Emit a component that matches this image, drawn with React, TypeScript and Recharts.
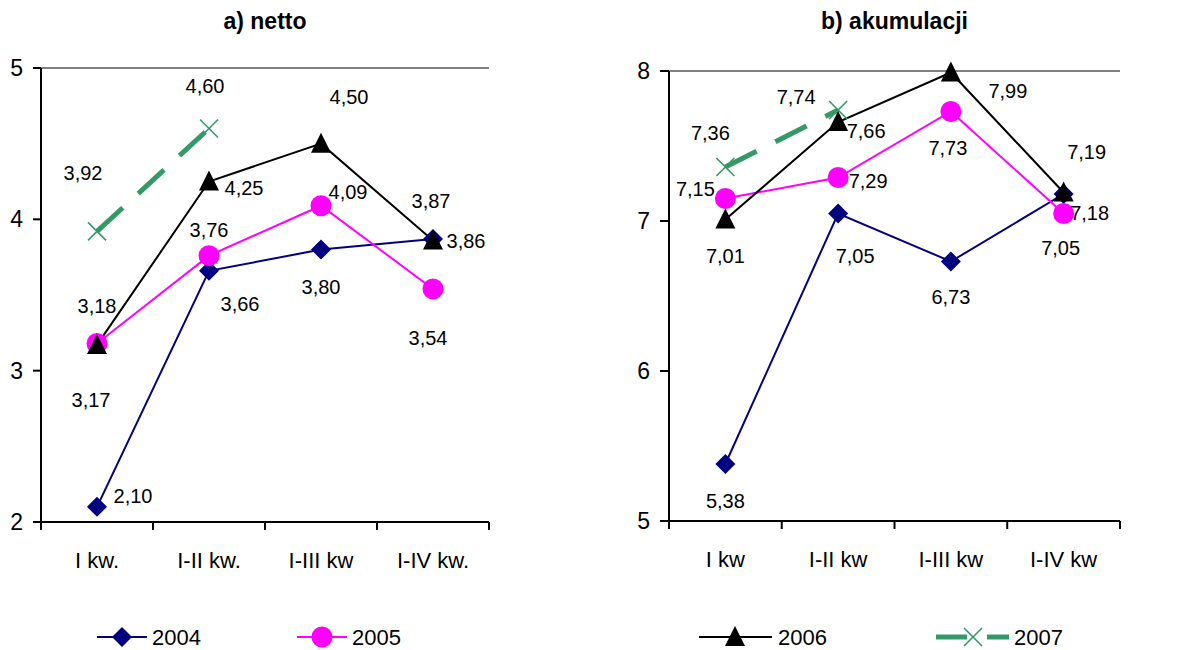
import { LineChart, Line, XAxis, YAxis, LabelList, ReferenceLine } from 'recharts'

const CATS_NETTO = ['I kw.', 'I-II kw.', 'I-III kw', 'I-IV kw.']
const CATS_AKUM = ['I kw', 'I-II kw', 'I-III kw', 'I-IV kw']
const YEARS = ['2004', '2005', '2006', '2007']

const netto2004 = [2.1, 3.66, 3.8, 3.87]
const netto2005 = [3.18, 3.76, 4.09, 3.54]
const netto2006 = [3.17, 4.25, 4.5, 3.86]
const netto2007 = [3.92, 4.6, null, null]

const akum2004 = [5.38, 7.05, 6.73, 7.18]
const akum2005 = [7.15, 7.29, 7.73, 7.05]
const akum2006 = [7.01, 7.66, 7.99, 7.19]
const akum2007 = [7.36, 7.74, null, null]

const NETTO_TICKS = [2, 3, 4, 5]
const AKUM_TICKS = [5, 6, 7, 8]

// where each value label sits relative to its point (dx, dy)
const NETTO_LABEL_POS = [
  [[36, -11], [31, 33], [0, 37], [-2, -38]],
  [[0, -37], [0, -26], [27, -14], [-5, 49]],
  [[-6, 55], [35, 6], [28, -47], [33, 0]],
  [[-14, -58], [-4, -43]],
]
const AKUM_LABEL_POS = [
  [[0, 37], [17, 42], [0, 35], [26, 19]],
  [[-30, -10], [30, 3], [-3, 36], [-3, 34]],
  [[0, 36], [28, 9], [57, 18], [23, -41]],
  [[-15, -34], [-42, -13]],
]

const FONT = '"Liberation Sans", Arial, sans-serif'
const COLORS = ['#000080', '#FF00FF', '#000000', '#339966']
const MARKERS = ['diamond', 'circle', 'triangle', 'x']

function Marker({ kind, cx, cy, color }: any) {
  if (cx == null || cy == null) return <g />
  if (kind === 'diamond')
    return <polygon points={`${cx},${cy - 10} ${cx + 10},${cy} ${cx},${cy + 10} ${cx - 10},${cy}`} fill={color} />
  if (kind === 'circle') return <circle cx={cx} cy={cy} r={10.5} fill={color} />
  if (kind === 'triangle')
    return <polygon points={`${cx},${cy - 11} ${cx + 10},${cy + 9} ${cx - 10},${cy + 9}`} fill={color} />
  return (
    <g stroke={color} strokeWidth={1.6}>
      <line x1={cx - 9} y1={cy - 9} x2={cx + 9} y2={cy + 9} />
      <line x1={cx - 9} y1={cy + 9} x2={cx + 9} y2={cy - 9} />
    </g>
  )
}

const fmt = (v: number) => v.toFixed(2).replace('.', ',')

function Panel({ title, cats, series, ticks, labelPos, left, width, yAxisW, rightM, topM, xAxisH, tickLen }: any) {
  const data = cats.map((c: string, i: number) => {
    const row: any = { cat: c }
    YEARS.forEach((y, k) => { row[y] = series[k][i] })
    return row
  })
  const plotW = width - yAxisW - rightM
  const band = plotW / cats.length
  const top = ticks[ticks.length - 1]

  const xTick = (p: any) => {
    const { x, y, payload, index } = p
    return (
      <g>
        <line x1={x - band / 2} x2={x - band / 2} y1={y} y2={y + 8} stroke="#000" strokeWidth={2} />
        {index === cats.length - 1 && <line x1={x + band / 2} x2={x + band / 2} y1={y} y2={y + 8} stroke="#000" strokeWidth={2} />}
        <text x={x} y={y + 46} textAnchor="middle" fontSize={22} fill="#000" fontFamily={FONT}>{payload.value}</text>
      </g>
    )
  }

  return (
    <div style={{ position: 'absolute', left, top: 0, width, height: 600 }}>
      <div style={{ position: 'absolute', left: yAxisW, width: plotW, top: 8, textAlign: 'center', fontFamily: FONT, fontWeight: 700, fontSize: 23 }}>{title}</div>
      <LineChart width={width} height={600} data={data} margin={{ top: topM, right: rightM, left: 0, bottom: 0 }} style={{ fontFamily: FONT }}>
        <ReferenceLine y={top} stroke="#808080" strokeWidth={2} />
        <XAxis dataKey="cat" height={xAxisH} tickLine={false} tickSize={0} tickMargin={0} interval={0}
          padding={{ left: band / 2, right: band / 2 }}
          axisLine={{ stroke: '#000', strokeWidth: 2 }} tick={xTick} />
        <YAxis width={yAxisW} domain={[ticks[0], top]} ticks={ticks} interval={0}
          tickSize={tickLen} tickMargin={10} tickLine={{ stroke: '#000', strokeWidth: 2 }}
          axisLine={{ stroke: '#000', strokeWidth: 2 }} tick={{ fontSize: 23, fill: '#000' }} />
        <YAxis yAxisId="right" orientation="right" width={0} domain={[0, 1]} tick={false} tickLine={false}
          axisLine={{ stroke: '#808080', strokeWidth: 2 }} />
        {YEARS.map((y, k) => (
          <Line key={y} dataKey={y} isAnimationActive={false} stroke={COLORS[k]}
            strokeWidth={k === 3 ? 5 : 2} strokeDasharray={k === 3 ? '35 21' : undefined}
            dot={(p: any) => <Marker key={p.index} kind={MARKERS[k]} cx={p.cx} cy={p.cy} color={COLORS[k]} />}
            activeDot={false} connectNulls={false}>
            <LabelList dataKey={y} content={(p: any) => {
              if (p.value == null || p.index == null) return null
              const off = labelPos[k][p.index] || [0, -30]
              return (
                <text x={p.x + off[0]} y={p.y + off[1]} textAnchor="middle" dominantBaseline="central"
                  fontSize={20} fill="#000" fontFamily={FONT}>{fmt(p.value)}</text>
              )
            }} />
          </Line>
        ))}
      </LineChart>
    </div>
  )
}

function Legend() {
  const items = [
    { k: 0, x1: 97, x2: 147, mx: 122, tx: 152 },
    { k: 1, x1: 297, x2: 347, mx: 322, tx: 352 },
    { k: 2, x1: 699, x2: 772, mx: 735, tx: 778 },
    { k: 3, x1: 936, x2: 1009, mx: 973, tx: 1014 },
  ]
  const cy = 37
  return (
    <svg width={1196} height={50} style={{ position: 'absolute', left: 0, top: 600 }}>
      {items.map(it => (
        <g key={it.k}>
          {it.k === 3 ? (
            <g stroke={COLORS[3]} strokeWidth={5}>
              <line x1={it.x1} x2={it.mx - 6} y1={cy} y2={cy} />
              <line x1={it.mx + 14} x2={it.x2} y1={cy} y2={cy} />
            </g>
          ) : (
            <line x1={it.x1} x2={it.x2} y1={cy} y2={cy} stroke={COLORS[it.k]} strokeWidth={2} />
          )}
          <Marker kind={MARKERS[it.k]} cx={it.mx} cy={cy} color={COLORS[it.k]} />
          <text x={it.tx} y={cy} dominantBaseline="central" fontSize={22} fill="#000" fontFamily={FONT}>{YEARS[it.k]}</text>
        </g>
      ))}
    </svg>
  )
}

export default function App() {
  return (
    <div style={{ position: 'absolute', left: 0, top: 0, width: 1196, height: 650, background: '#fff', overflow: 'hidden' }}>
      <Panel title="a) netto" cats={CATS_NETTO} series={[netto2004, netto2005, netto2006, netto2007]}
        ticks={NETTO_TICKS} labelPos={NETTO_LABEL_POS} left={0} width={600}
        yAxisW={41} rightM={111} topM={68} xAxisH={78} tickLen={8} />
      <Panel title="b) akumulacji" cats={CATS_AKUM} series={[akum2004, akum2005, akum2006, akum2007]}
        ticks={AKUM_TICKS} labelPos={AKUM_LABEL_POS} left={600} width={596}
        yAxisW={69} rightM={76} topM={71} xAxisH={79} tickLen={9} />
      <Legend />
    </div>
  )
}
